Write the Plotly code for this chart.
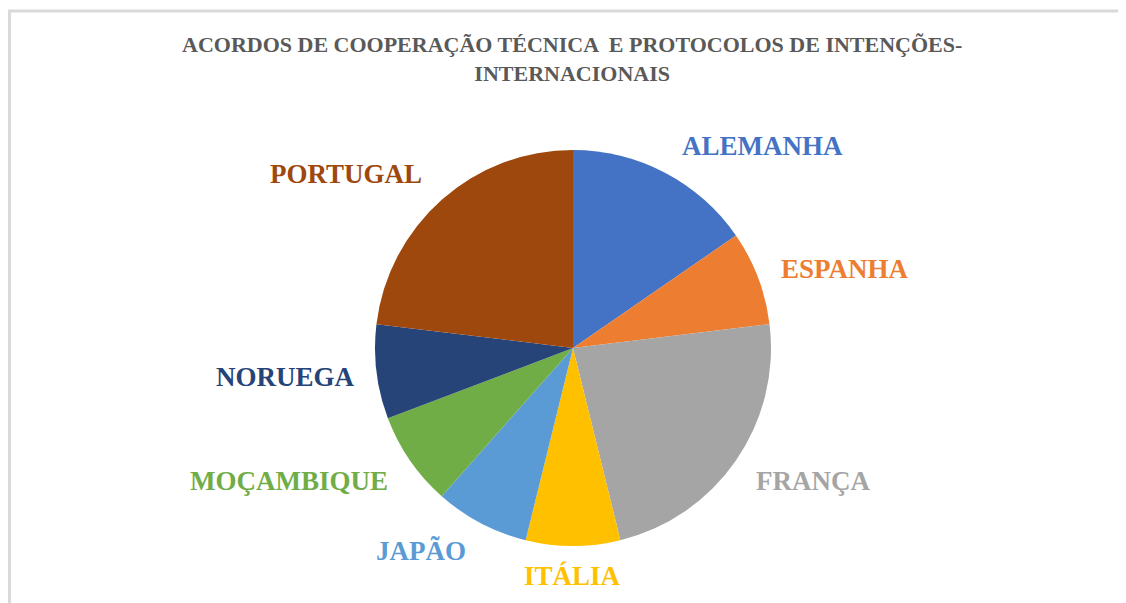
import plotly.graph_objects as go

W, H = 1126, 603
# the page adds an 8px body margin, so shift positions back by it
OFF = 8

countries = ['ALEMANHA', 'ESPANHA', 'FRANÇA', 'ITÁLIA', 'JAPÃO', 'MOÇAMBIQUE', 'NORUEGA', 'PORTUGAL']
acordos = [2, 1, 3, 1, 1, 1, 1, 3]
colors = ['#4472C4', '#ED7D31', '#A5A5A5', '#FFC000', '#5B9BD5', '#70AD47', '#264478', '#9E480E']

# label centres in pixels (as placed in the original chart)
label_pos = [(762, 146), (845, 269), (813, 481), (572, 576), (421, 551), (289, 481), (285, 377), (346, 174)]

title_text = 'ACORDOS DE COOPERAÇÃO TÉCNICA  E PROTOCOLOS DE INTENÇÕES-<br>INTERNACIONAIS'

serif = 'Times New Roman, Liberation Serif, serif'


def px_x(x):
    return (x - OFF) / W


def px_y(y):
    return 1 - (y - OFF) / H


fig = go.Figure()

fig.add_trace(go.Pie(
    labels=countries,
    values=acordos,
    sort=False,
    direction='clockwise',
    rotation=0,
    marker=dict(colors=colors, line=dict(width=0)),
    textinfo='none',
    hoverinfo='label+value+percent',
    showlegend=False,
    domain=dict(x=[px_x(375), px_x(771)], y=[px_y(546), px_y(150)]),
))

annotations = []
for name, col, (lx, ly) in zip(countries, colors, label_pos):
    annotations.append(dict(
        x=px_x(lx), y=px_y(ly), xref='paper', yref='paper',
        text='<b>' + name + '</b>', showarrow=False,
        xanchor='center', yanchor='middle',
        font=dict(family=serif, size=27, color=col),
    ))

annotations.append(dict(
    x=px_x(572), y=px_y(59), xref='paper', yref='paper',
    text='<b>' + title_text + '</b>', showarrow=False,
    xanchor='center', yanchor='middle',
    font=dict(family=serif, size=22, color='#595959'),
))

# chart-area frame: top and left edges are visible in the original
fig.update_layout(
    width=W, height=H,
    margin=dict(l=0, r=0, t=0, b=0),
    paper_bgcolor='white',
    plot_bgcolor='white',
    annotations=annotations,
    shapes=[dict(
        type='rect', xref='paper', yref='paper',
        x0=1.5 / W, x1=1.05, y0=-0.05, y1=px_y(11),
        line=dict(color='#D9D9D9', width=3),
    )],
)

fig.write_html('out.html')
